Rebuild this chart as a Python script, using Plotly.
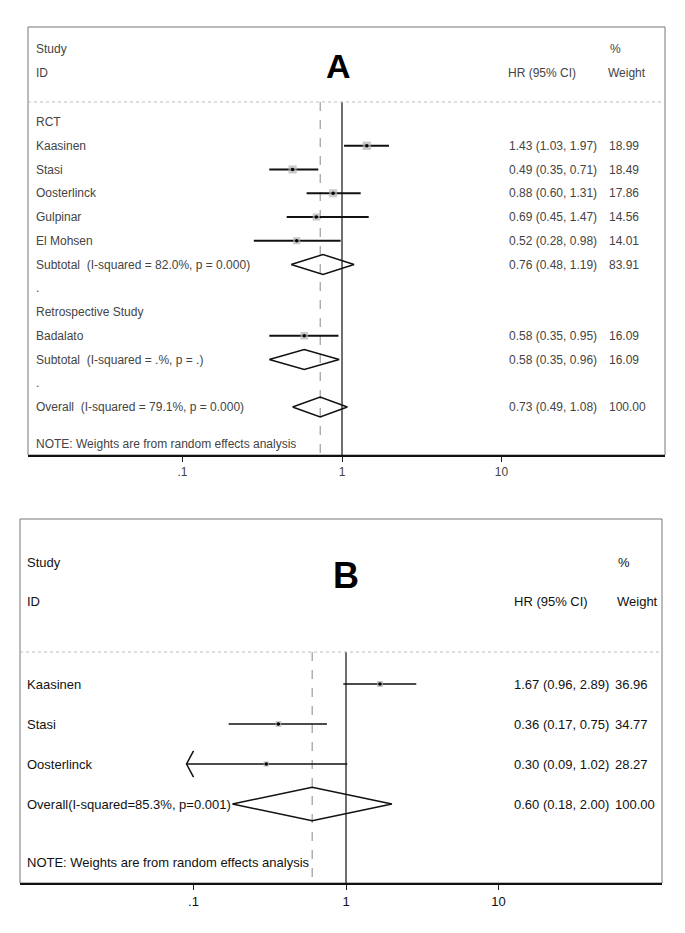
import plotly.graph_objects as go

W, H = 685, 933

# ---------------- Panel A data ----------------
a_study_names = ["Kaasinen", "Stasi", "Oosterlinck", "Gulpinar", "El Mohsen", "Badalato"]
a_study_hr = [1.43, 0.49, 0.88, 0.69, 0.52, 0.58]
a_study_lo = [1.03, 0.35, 0.60, 0.45, 0.28, 0.35]
a_study_hi = [1.97, 0.71, 1.31, 1.47, 0.98, 0.95]
a_study_wt = [18.99, 18.49, 17.86, 14.56, 14.01, 16.09]
a_study_rows = [1, 2, 3, 4, 5, 9]

a_pool_names = ["Subtotal  (I-squared = 82.0%, p = 0.000)",
                "Subtotal  (I-squared = .%, p = .)",
                "Overall  (I-squared = 79.1%, p = 0.000)"]
a_pool_hr = [0.76, 0.58, 0.73]
a_pool_lo = [0.48, 0.35, 0.49]
a_pool_hi = [1.19, 0.96, 1.08]
a_pool_wt = [83.91, 16.09, 100.00]
a_pool_rows = [6, 10, 12]

a_group_names = ["RCT", ".", "Retrospective Study", "."]
a_group_rows = [0, 7, 8, 11]

# ---------------- Panel B data ----------------
b_study_names = ["Kaasinen", "Stasi", "Oosterlinck"]
b_study_hr = [1.67, 0.36, 0.30]
b_study_lo = [0.96, 0.17, 0.09]
b_study_hi = [2.89, 0.75, 1.02]
b_study_wt = [36.96, 34.77, 28.27]
b_study_rows = [0, 1, 2]

b_pool_names = ["Overall(I-squared=85.3%, p=0.001)"]
b_pool_hr = [0.60]
b_pool_lo = [0.18]
b_pool_hi = [2.00]
b_pool_wt = [100.00]
b_pool_rows = [3]

null_hr = 1
tick_vals = [0.1, 1, 10]
tick_text = [".1", "1", "10"]
note_text = "NOTE: Weights are from random effects analysis"

FONT = "Liberation Sans, Arial, Helvetica, sans-serif"


def px_x(px):
    return px / W


def px_y(py):
    return 1 - py / H


fig = go.Figure()


def build_panel(ax, box, row0, step, decade_px, one_px, names, hr, lo, hi, wt, rows,
                pnames, phr, plo, phi, pwt, prows, gnames, grows,
                sep_px, note_px, label_px, hr_px, wt_px, header, letter, letter_size,
                fsize, fcolor, sq_scale, ci_w, arrow_rows=()):
    xa = "x" if ax == 1 else "x%d" % ax
    ya = "y" if ax == 1 else "y%d" % ax
    left, right, top, bottom = box
    ylo = (bottom - row0) / step
    yhi = (top - row0) / step
    xl = (left - one_px) / decade_px
    xr = (right - one_px) / decade_px
    sep_row = (sep_px - row0) / step

    xkey = "xaxis" if ax == 1 else "xaxis%d" % ax
    ykey = "yaxis" if ax == 1 else "yaxis%d" % ax
    fig.update_layout(**{
        xkey: dict(domain=[px_x(left), px_x(right)], type="log", range=[xl, xr],
                   anchor=ya, showgrid=False, zeroline=False, showline=True,
                   linecolor="#111", linewidth=2, ticks="outside", ticklen=5,
                   tickwidth=1, tickcolor="#222", tickvals=tick_vals, ticktext=tick_text,
                   tickfont=dict(family=FONT, size=fsize, color=fcolor), fixedrange=True),
        ykey: dict(domain=[px_y(bottom), px_y(top)], range=[ylo, yhi], anchor=xa,
                   visible=False, fixedrange=True),
    })

    # box border
    fig.add_shape(type="rect", xref=xa + " domain", yref=ya + " domain", x0=0, x1=1, y0=0, y1=1,
                  line=dict(color="#777", width=1), layer="below")
    # header separator
    fig.add_shape(type="line", xref=xa + " domain", yref="paper", x0=0, x1=1,
                  y0=px_y(sep_px), y1=px_y(sep_px), line=dict(color="#bbb", width=1, dash="dot"))

    overall = phr[-1]
    # reference lines
    fig.add_trace(go.Scatter(x=[overall, overall], y=[sep_row, ylo], mode="lines",
                             line=dict(color="#888", width=1, dash="dash"),
                             xaxis=xa, yaxis=ya, hoverinfo="skip"))
    fig.add_trace(go.Scatter(x=[null_hr, null_hr], y=[sep_row, ylo], mode="lines",
                             line=dict(color="#222", width=1.3),
                             xaxis=xa, yaxis=ya, hoverinfo="skip"))

    # CI lines
    cx, cy = [], []
    for l, h, r in zip(lo, hi, rows):
        cx += [l, h, None]
        cy += [r, r, None]
    fig.add_trace(go.Scatter(x=cx, y=cy, mode="lines", line=dict(color="#111", width=ci_w),
                             xaxis=xa, yaxis=ya, hoverinfo="skip"))
    # arrows for truncated CIs
    for r in arrow_rows:
        i = rows.index(r)
        tip = lo[i]
        arm = tip * 10 ** (7 / decade_px)
        fig.add_trace(go.Scatter(x=[arm, tip, arm], y=[r - 0.33, r, r + 0.33], mode="lines",
                                 line=dict(color="#111", width=ci_w),
                                 xaxis=xa, yaxis=ya, hoverinfo="skip"))
    # weight boxes
    fig.add_trace(go.Scatter(x=hr, y=rows, mode="markers",
                             marker=dict(symbol="square", color="#b4b4b4",
                                         size=[sq_scale * w ** 0.5 for w in wt], line=dict(width=0)),
                             xaxis=xa, yaxis=ya, hoverinfo="skip"))
    fig.add_trace(go.Scatter(x=hr, y=rows, mode="markers",
                             marker=dict(symbol="circle", color="#000", size=3.5),
                             xaxis=xa, yaxis=ya, hoverinfo="skip"))
    # diamonds
    for e, l, h, r in zip(phr, plo, phi, prows):
        fig.add_trace(go.Scatter(x=[l, e, h, e, l], y=[r, r - 0.42, r, r + 0.42, r], mode="lines",
                                 line=dict(color="#111", width=1.5),
                                 xaxis=xa, yaxis=ya, hoverinfo="skip"))

    def txt(x, y, s, yref="paper", anchor="left", size=fsize, color=fcolor):
        fig.add_annotation(x=x, y=y, xref="paper", yref=yref, text=s, showarrow=False,
                           xanchor=anchor, yanchor="middle", borderpad=0,
                           font=dict(family=FONT, size=size, color=color))

    # row labels & stats
    for n, r in zip(gnames, grows):
        txt(px_x(label_px), r, n, yref=ya)
    for n, e, l, h, w, r in zip(names + pnames, hr + phr, lo + plo, hi + phi, wt + pwt, rows + prows):
        txt(px_x(label_px), r, n, yref=ya)
        txt(px_x(hr_px), r, "%.2f (%.2f, %.2f)" % (e, l, h), yref=ya)
        txt(px_x(wt_px), r, "%.2f" % w, yref=ya)
    txt(px_x(label_px), px_y(note_px), note_text)

    # header
    (study_y, id_y, lx, ly, hrh_x, pct_x, wth_x) = header
    txt(px_x(label_px), px_y(study_y), "Study")
    txt(px_x(label_px), px_y(id_y), "ID")
    txt(px_x(hrh_x), px_y(id_y), "HR (95% CI)")
    txt(px_x(pct_x), px_y(study_y), "%")
    txt(px_x(wth_x), px_y(id_y), "Weight")
    txt(px_x(lx), px_y(ly), "<b>%s</b>" % letter, anchor="center", size=letter_size, color="#000")


build_panel(1, (28, 665, 27, 455), 122, 23.75, 159.5, 342,
            a_study_names, a_study_hr, a_study_lo, a_study_hi, a_study_wt, a_study_rows,
            a_pool_names, a_pool_hr, a_pool_lo, a_pool_hi, a_pool_wt, a_pool_rows,
            a_group_names, a_group_rows,
            sep_px=102, note_px=444, label_px=35, hr_px=508, wt_px=608,
            header=(49, 73, 338, 66, 507, 609, 607), letter="A", letter_size=34,
            fsize=12, fcolor="#444", sq_scale=1.9, ci_w=1.8)

build_panel(2, (20, 662, 519, 883), 684, 40, 152.5, 346,
            b_study_names, b_study_hr, b_study_lo, b_study_hi, b_study_wt, b_study_rows,
            b_pool_names, b_pool_hr, b_pool_lo, b_pool_hi, b_pool_wt, b_pool_rows,
            [], [],
            sep_px=652, note_px=862, label_px=26, hr_px=513, wt_px=614,
            header=(562, 601, 346, 575, 513, 617, 616), letter="B", letter_size=36,
            fsize=13, fcolor="#111", sq_scale=1.0, ci_w=1.5, arrow_rows=(2,))

fig.update_layout(width=W, height=H, margin=dict(l=0, r=0, t=0, b=0),
                  paper_bgcolor="white", plot_bgcolor="white", showlegend=False)

fig.write_html("out.html", config={"displayModeBar": False, "staticPlot": True},
               post_script="document.body.style.margin='0px';document.body.style.overflow='hidden';")
